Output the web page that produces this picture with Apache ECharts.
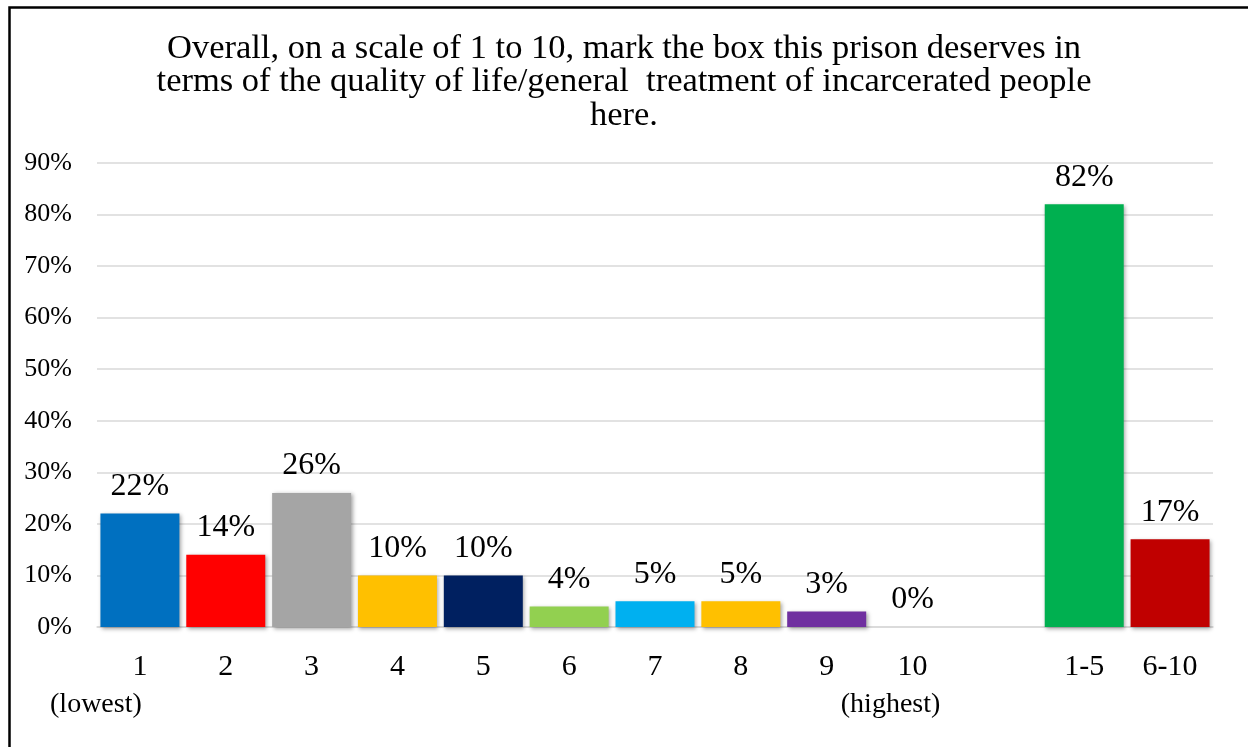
<!DOCTYPE html>
<html>
<head>
<meta charset="utf-8">
<script src="https://cdn.jsdelivr.net/npm/echarts@6/dist/echarts.min.js"></script>
<style>
html,body{margin:0;padding:0;background:#fff;}
#chart{width:1248px;height:747px;}
</style>
</head>
<body>
<div id="chart"></div>
<script>
var titleText = 'Overall, on a scale of 1 to 10, mark the box this prison deserves in\nterms of the quality of life/general  treatment of incarcerated people\nhere.';
var categories = ['1', '2', '3', '4', '5', '6', '7', '8', '9', '10', '', '1-5', '6-10'];
var subLabels = ['(lowest)', '', '', '', '', '', '', '', '', '(highest)', '', '', ''];
var values = [22, 14, 26, 10, 10, 4, 5, 5, 3, 0, null, 82, 17];
var barColors = ['#0070C0', '#FF0000', '#A5A5A5', '#FFC000', '#002060', '#92D050', '#00B0F0', '#FFC000', '#7030A0', '#7F7F7F', '#FFFFFF', '#00B050', '#C00000'];
var yTicks = [0, 10, 20, 30, 40, 50, 60, 70, 80, 90];

var FONT = '"Liberation Serif", serif';
var subStyleByIndex = {0: 'low', 9: 'high'};

var chart = echarts.init(document.getElementById('chart'), null, {renderer: 'canvas'});
var option = {
  backgroundColor: '#ffffff',
  animation: false,
  title: {
    text: titleText,
    left: 'center',
    top: 27,
    padding: [5, 0, 5, 18],
    textStyle: {fontFamily: FONT, fontSize: 34.5, fontWeight: 'normal', color: '#000', lineHeight: 33.5}
  },
  graphic: [{
    type: 'rect',
    shape: {x: 9.5, y: 7.5, width: 1400, height: 1000},
    style: {fill: 'none', stroke: '#000', lineWidth: 2.5},
    silent: true, z: 100
  }],
  grid: {left: 97, right: 35, top: 163, bottom: 120, containLabel: false},
  xAxis: {
    type: 'category',
    data: categories,
    axisLine: {show: true, lineStyle: {color: '#D9D9D9', width: 1.5}},
    axisTick: {show: false},
    axisLabel: {
      interval: 0,
      margin: 23,
      color: '#000',
      fontFamily: FONT,
      formatter: function (v, i) {
        var s = subLabels[i];
        if (s) {
          return '{n|' + v + '}\n{' + subStyleByIndex[i] + '|' + s + '}';
        }
        return '{n|' + v + '}';
      },
      rich: {
        n: {fontFamily: FONT, fontSize: 30, lineHeight: 34, color: '#000'},
        low: {fontFamily: FONT, fontSize: 28, lineHeight: 42, color: '#000', padding: [0, 88, 0, 0]},
        high: {fontFamily: FONT, fontSize: 28, lineHeight: 42, color: '#000', padding: [0, 44, 0, 0]}
      }
    }
  },
  yAxis: {
    type: 'value',
    min: 0,
    max: yTicks[yTicks.length - 1],
    interval: yTicks[1] - yTicks[0],
    axisLine: {show: false},
    axisTick: {show: false},
    splitLine: {show: true, lineStyle: {color: '#D9D9D9', width: 1.5}},
    axisLabel: {
      margin: 25,
      color: '#000',
      fontFamily: FONT,
      fontSize: 26,
      formatter: '{value}%'
    }
  },
  series: [{
    type: 'bar',
    barCategoryGap: '8%',
    data: values.map(function (v, i) {
      return {value: v, itemStyle: {color: barColors[i]}};
    }),
    itemStyle: {
      shadowColor: 'rgba(0,0,0,0.35)',
      shadowBlur: 4,
      shadowOffsetX: 1.5,
      shadowOffsetY: 1.5
    },
    label: {
      show: true,
      position: 'top',
      distance: 11,
      color: '#000',
      fontFamily: FONT,
      fontSize: 32,
      formatter: function (p) { return p.value == null ? '' : p.value + '%'; }
    }
  }]
};
chart.setOption(option);
</script>
</body>
</html>
